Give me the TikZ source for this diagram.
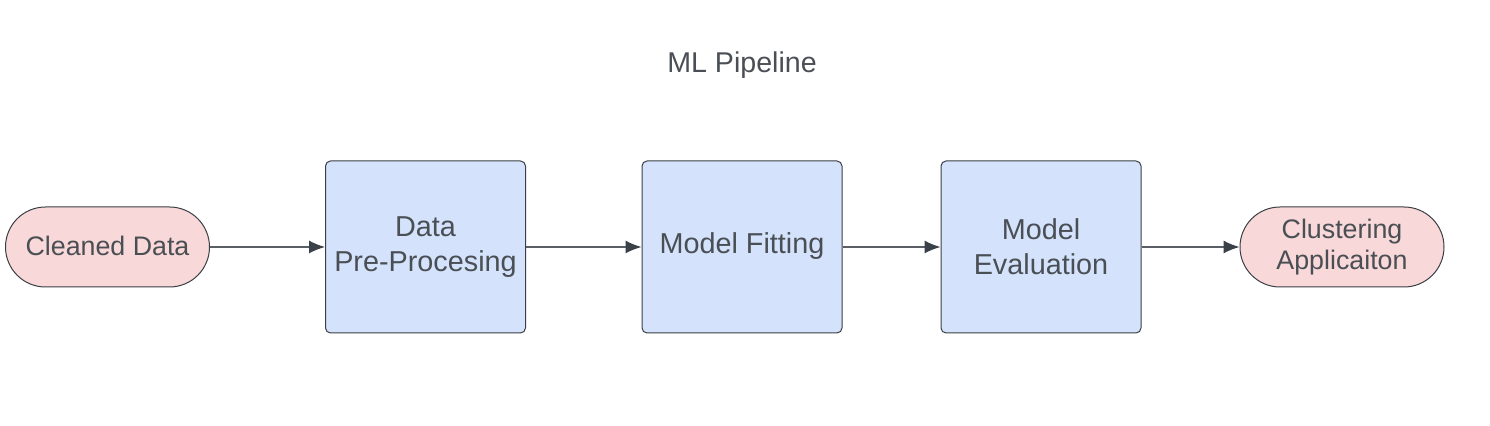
\documentclass[tikz,border=0pt]{standalone}
\usepackage{fontspec}
\setmainfont{Liberation Sans}
\usetikzlibrary{arrows.meta}
\definecolor{txt}{HTML}{4A4F55}
\definecolor{edge}{HTML}{3A3F45}
\definecolor{boxblue}{HTML}{D4E3FB}
\definecolor{pinkfill}{HTML}{F8D8D8}
\definecolor{linegray}{HTML}{5A5F66}
\definecolor{headgray}{HTML}{3A4149}
\tikzset{
  procbox/.style={draw=edge, line width=0.5pt, fill=boxblue, rounded corners=2.5pt,
    minimum width=100pt, minimum height=86pt, inner sep=0pt, align=center,
    text=txt, font=\fontsize{14.4}{17.5}\selectfont},
  termbox/.style={draw=edge, line width=0.5pt, fill=pinkfill, rounded corners=20pt,
    minimum width=102pt, minimum height=40pt, inner sep=0pt, align=center,
    text=txt, font=\fontsize{13.4}{15.5}\selectfont},
  flow/.style={draw=linegray, line width=0.6pt, -{Latex[length=8pt,width=6.5pt,color=headgray]}},
}
\begin{document}
\begin{tikzpicture}[x=0.5pt,y=-0.5pt]
\useasboundingbox (0,0) rectangle (1490,426);
\node[text=txt, font=\fontsize{14.3}{16}\selectfont] (title) at (742,65) {ML Pipeline};
\node[termbox] (clean) at (107.5,247) {\raisebox{1.5pt}{Cleaned Data}};
\node[procbox] (pre) at (425.5,247) {\raisebox{6.5pt}{\parbox{100pt}{\centering Data\\Pre-Procesing}}};
\node[procbox] (fit) at (742,247) {\raisebox{4pt}{Model Fitting}};
\node[procbox] (eval) at (1041,247) {\raisebox{4.5pt}{\parbox{100pt}{\centering Model\\Evaluation}}};
\node[termbox] (app) at (1342,247) {\raisebox{2.5pt}{\parbox{100pt}{\centering Clustering\\Applicaiton}}};
\draw[flow] (clean) -- (pre);
\draw[flow] (pre) -- (fit);
\draw[flow] (fit) -- (eval);
\draw[flow] (eval) -- (app);
\end{tikzpicture}
\end{document}
